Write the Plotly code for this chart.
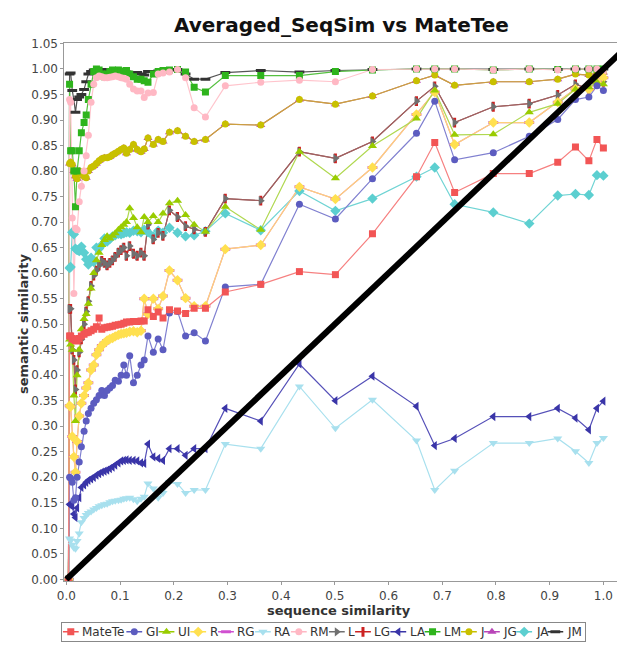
import plotly.graph_objects as go

# ---------------- data ----------------
SEQ_SIM = [0.004, 0.006, 0.008, 0.011, 0.014, 0.017, 0.020, 0.024, 0.028, 0.033,
           0.037, 0.041, 0.046, 0.051, 0.056, 0.061, 0.066, 0.071, 0.076, 0.081,
           0.086, 0.091, 0.097, 0.102, 0.107, 0.112, 0.118, 0.125, 0.132, 0.139,
           0.145, 0.152, 0.162, 0.171, 0.180, 0.192, 0.207, 0.222, 0.238, 0.259,
           0.296, 0.362, 0.434, 0.501, 0.570, 0.652, 0.686, 0.723, 0.795, 0.862,
           0.915, 0.948, 0.973, 0.988, 1.000]

MATETE = [0.0, 0.477, 0.477, 0.472, 0.470, 0.468, 0.467, 0.472, 0.477, 0.480,
          0.483, 0.484, 0.487, 0.490, 0.495, 0.512, 0.490, 0.493, 0.494, 0.495,
          0.496, 0.498, 0.499, 0.500, 0.502, 0.504, 0.504, 0.505, 0.505, 0.506,
          0.506, 0.528, 0.515, 0.524, 0.512, 0.528, 0.526, 0.521, 0.531, 0.531,
          0.563, 0.578, 0.603, 0.597, 0.677, 0.789, 0.856, 0.758, 0.795, 0.795,
          0.817, 0.847, 0.820, 0.862, 0.845]
GI = [0.0, 0.200, 0.198, 0.190, 0.155, 0.160, 0.200, 0.230, 0.260, 0.290,
      0.310, 0.325, 0.335, 0.345, 0.352, 0.360, 0.370, 0.360, 0.370, 0.375,
      0.380, 0.390, 0.388, 0.400, 0.420, 0.400, 0.438, 0.385, 0.400, 0.420,
      0.430, 0.477, 0.445, 0.471, 0.450, 0.522, 0.525, 0.477, 0.483, 0.467,
      0.573, 0.578, 0.735, 0.706, 0.785, 0.874, 0.937, 0.822, 0.836, 0.868,
      0.901, 0.940, 0.945, 0.967, 0.958]
UI = [0.0, 0.470, 0.460, 0.450, 0.360, 0.310, 0.400, 0.450, 0.490, 0.510,
      0.520, 0.540, 0.570, 0.600, 0.625, 0.640, 0.655, 0.665, 0.672, 0.668,
      0.673, 0.678, 0.685, 0.690, 0.695, 0.700, 0.727, 0.708, 0.690, 0.680,
      0.710, 0.700, 0.712, 0.700, 0.717, 0.737, 0.742, 0.714, 0.695, 0.681,
      0.730, 0.685, 0.838, 0.786, 0.849, 0.903, 0.958, 0.871, 0.872, 0.915,
      0.932, 0.960, 0.964, 0.974, 0.970]
R = [0.0, 0.340, 0.338, 0.280, 0.240, 0.210, 0.270, 0.320, 0.345, 0.360,
     0.375, 0.385, 0.410, 0.420, 0.440, 0.450, 0.458, 0.463, 0.468, 0.471,
     0.473, 0.476, 0.479, 0.481, 0.482, 0.483, 0.485, 0.486, 0.484, 0.487,
     0.550, 0.520, 0.550, 0.530, 0.555, 0.605, 0.586, 0.551, 0.535, 0.535,
     0.647, 0.655, 0.769, 0.745, 0.807, 0.911, 0.955, 0.852, 0.895, 0.895,
     0.935, 0.961, 0.960, 0.974, 0.983]
RG = [0.0, 0.340, 0.338, 0.280, 0.240, 0.210, 0.270, 0.320, 0.345, 0.360,
      0.375, 0.385, 0.410, 0.420, 0.440, 0.450, 0.458, 0.463, 0.468, 0.471,
      0.473, 0.476, 0.479, 0.481, 0.482, 0.483, 0.485, 0.486, 0.484, 0.487,
      0.550, 0.520, 0.550, 0.530, 0.555, 0.605, 0.586, 0.551, 0.535, 0.535,
      0.647, 0.655, 0.769, 0.745, 0.807, 0.911, 0.955, 0.852, 0.895, 0.895,
      0.935, 0.961, 0.960, 0.974, 0.983]
RA = [0.0, 0.080, 0.076, 0.068, 0.062, 0.060, 0.075, 0.090, 0.112, 0.120,
      0.126, 0.130, 0.133, 0.137, 0.140, 0.143, 0.145, 0.147, 0.148, 0.151,
      0.153, 0.154, 0.155, 0.156, 0.158, 0.159, 0.160, 0.157, 0.153, 0.158,
      0.162, 0.188, 0.178, 0.160, 0.169, 0.190, 0.187, 0.169, 0.175, 0.175,
      0.265, 0.256, 0.378, 0.296, 0.352, 0.272, 0.175, 0.213, 0.267, 0.267,
      0.276, 0.251, 0.228, 0.267, 0.277]
RM = [0.0, 0.940, 0.935, 0.708, 0.560, 0.688, 0.685, 0.740, 0.770, 0.800,
      0.830, 0.870, 0.935, 0.970, 0.983, 0.986, 0.985, 0.983, 0.983, 0.984,
      0.985, 0.986, 0.985, 0.983, 0.982, 0.980, 0.970, 0.961, 0.957, 0.957,
      0.944, 0.953, 0.954, 0.990, 0.992, 0.994, 0.999, 0.983, 0.924, 0.906,
      0.967, 0.974, 0.978, 0.975, 0.999, 1.000, 1.000, 1.000, 0.998, 1.000,
      0.998, 1.000, 1.000, 1.000, 0.995]
L = [0.0, 0.530, 0.530, 0.450, 0.430, 0.372, 0.410, 0.445, 0.470, 0.500,
     0.525, 0.545, 0.575, 0.595, 0.605, 0.615, 0.624, 0.620, 0.615, 0.620,
     0.625, 0.632, 0.640, 0.645, 0.650, 0.634, 0.653, 0.638, 0.634, 0.640,
     0.634, 0.695, 0.666, 0.679, 0.673, 0.723, 0.710, 0.692, 0.686, 0.681,
     0.746, 0.742, 0.838, 0.825, 0.858, 0.937, 0.966, 0.895, 0.926, 0.932,
     0.949, 0.970, 0.961, 0.974, 0.975]
LG = [0.0, 0.530, 0.530, 0.450, 0.430, 0.372, 0.410, 0.445, 0.470, 0.500,
      0.525, 0.545, 0.575, 0.595, 0.605, 0.615, 0.624, 0.620, 0.615, 0.620,
      0.625, 0.632, 0.640, 0.645, 0.650, 0.634, 0.653, 0.638, 0.634, 0.640,
      0.634, 0.695, 0.666, 0.679, 0.673, 0.723, 0.710, 0.692, 0.686, 0.681,
      0.746, 0.742, 0.838, 0.825, 0.858, 0.937, 0.966, 0.895, 0.926, 0.932,
      0.949, 0.970, 0.961, 0.974, 0.975]
LA = [0.0, 0.147, 0.145, 0.144, 0.128, 0.121, 0.140, 0.160, 0.180, 0.185,
      0.190, 0.194, 0.197, 0.200, 0.204, 0.207, 0.210, 0.212, 0.214, 0.217,
      0.220, 0.224, 0.228, 0.232, 0.233, 0.234, 0.233, 0.233, 0.232, 0.228,
      0.227, 0.265, 0.240, 0.237, 0.233, 0.256, 0.256, 0.243, 0.256, 0.256,
      0.335, 0.310, 0.422, 0.350, 0.398, 0.339, 0.262, 0.276, 0.319, 0.319,
      0.335, 0.316, 0.293, 0.335, 0.349]
LM = [0.0, 0.970, 0.840, 0.840, 0.800, 0.730, 0.800, 0.840, 0.875, 0.895,
      0.910, 0.940, 0.970, 0.995, 1.000, 0.998, 0.990, 0.985, 0.990, 0.995,
      0.998, 0.997, 0.998, 0.996, 0.995, 0.997, 0.990, 0.985, 0.980, 0.980,
      0.977, 0.974, 0.990, 0.995, 0.997, 0.998, 0.999, 0.994, 0.964, 0.955,
      0.987, 0.987, 0.987, 0.995, 0.998, 1.000, 1.000, 1.000, 0.998, 1.000,
      0.999, 1.000, 1.000, 1.000, 1.000]
J = [0.0, 0.815, 0.817, 0.813, 0.800, 0.790, 0.785, 0.800, 0.795, 0.790,
     0.787, 0.800, 0.807, 0.810, 0.815, 0.820, 0.824, 0.826, 0.826, 0.828,
     0.832, 0.835, 0.839, 0.842, 0.845, 0.835, 0.842, 0.852, 0.842, 0.838,
     0.843, 0.865, 0.852, 0.862, 0.858, 0.876, 0.879, 0.868, 0.858, 0.862,
     0.892, 0.890, 0.940, 0.931, 0.947, 0.977, 0.988, 0.968, 0.975, 0.975,
     0.980, 0.990, 0.988, 0.992, 0.993]
JG = [0.0, 0.815, 0.817, 0.813, 0.800, 0.790, 0.785, 0.800, 0.795, 0.790,
      0.787, 0.800, 0.807, 0.810, 0.815, 0.820, 0.824, 0.826, 0.826, 0.828,
      0.832, 0.835, 0.839, 0.842, 0.845, 0.835, 0.842, 0.852, 0.842, 0.838,
      0.843, 0.865, 0.852, 0.862, 0.858, 0.876, 0.879, 0.868, 0.858, 0.862,
      0.892, 0.890, 0.940, 0.931, 0.947, 0.977, 0.988, 0.968, 0.975, 0.975,
      0.980, 0.990, 0.988, 0.992, 0.993]
JA = [0.0, 0.610, 0.612, 0.680, 0.676, 0.648, 0.645, 0.643, 0.652, 0.640,
      0.627, 0.617, 0.630, 0.622, 0.650, 0.648, 0.655, 0.668, 0.662, 0.667,
      0.672, 0.674, 0.677, 0.676, 0.678, 0.680, 0.679, 0.683, 0.682, 0.680,
      0.685, 0.680, 0.672, 0.683, 0.679, 0.689, 0.679, 0.672, 0.674, 0.682,
      0.717, 0.684, 0.761, 0.722, 0.746, 0.789, 0.807, 0.735, 0.719, 0.697,
      0.752, 0.755, 0.753, 0.792, 0.791]
JM = [0.0, 0.990, 0.992, 0.958, 0.940, 0.915, 0.940, 0.945, 0.950, 0.960,
      0.975, 0.990, 0.995, 0.998, 0.998, 0.997, 0.998, 0.999, 0.997, 0.998,
      0.997, 0.996, 0.997, 0.998, 0.995, 0.994, 0.993, 0.992, 0.993, 0.990,
      0.988, 0.995, 0.995, 0.996, 0.997, 0.998, 0.999, 0.990, 0.980, 0.980,
      0.993, 0.997, 0.994, 0.997, 0.999, 1.000, 1.000, 1.000, 0.999, 1.000,
      0.999, 1.000, 1.000, 1.000, 1.000]

SERIES_NAMES = ["MateTe", "GI", "UI", "R", "RG", "RA", "RM", "L", "LG", "LA",
                "LM", "J", "JG", "JA", "JM"]
SERIES_VALUES = [MATETE, GI, UI, R, RG, RA, RM, L, LG, LA, LM, J, JG, JA, JM]

DIAG_X = [0.0, 1.1]
DIAG_Y = [0.0, 1.1]

X_TICKS = [0.0, 0.1, 0.2, 0.3, 0.4, 0.5, 0.6, 0.7, 0.8, 0.9, 1.0]
X_TICK_LABELS = ["0.0", "0.1", "0.2", "0.3", "0.4", "0.5", "0.6", "0.7", "0.8", "0.9", "1.0"]
Y_TICKS = [0.00, 0.05, 0.10, 0.15, 0.20, 0.25, 0.30, 0.35, 0.40, 0.45, 0.50,
           0.55, 0.60, 0.65, 0.70, 0.75, 0.80, 0.85, 0.90, 0.95, 1.00, 1.05]
Y_TICK_LABELS = ["0.00", "0.05", "0.10", "0.15", "0.20", "0.25", "0.30", "0.35",
                 "0.40", "0.45", "0.50", "0.55", "0.60", "0.65", "0.70", "0.75",
                 "0.80", "0.85", "0.90", "0.95", "1.00", "1.05"]

TITLE = "Averaged_SeqSim vs MateTee"
X_TITLE = "sequence similarity"
Y_TITLE = "semantic similarity"

# ---------------- styles ----------------
STYLE = {
    "MateTe": ("#f25555", "#f68080", "square", 7),
    "GI": ("#5c5cc0", "#8080d0", "circle", 7),
    "UI": ("#99cc00", "#b0d850", "triangle-up", 8),
    "R": ("#ffe050", "#ffd07a", "diamond", 8),
    "RG": ("#d050d0", "#e090c0", "line-ew", 7),
    "RA": ("#a8e0ee", "#a8e0ee", "triangle-down", 8),
    "RM": ("#ffb8c4", "#ffc4cc", "circle", 7),
    "L": ("#707070", "#a06060", "triangle-right", 8),
    "LG": ("#cc2222", "#a06060", "line-ns", 7),
    "LA": ("#3a35a8", "#5550b8", "triangle-left", 8),
    "LM": ("#2eb41c", "#55c040", "square", 7),
    "J": ("#c8c000", "#cca040", "circle", 7),
    "JG": ("#b845b8", "#c08070", "triangle-up", 8),
    "JA": ("#5ccfd0", "#70d4d4", "diamond", 8),
    "JM": ("#333333", "#555555", "line-ew", 7),
}

FONT = "DejaVu Sans"
W, H = 625, 647
OFF = 8          # the page body keeps its default 8px margin


def fx(p):
    return p - OFF


def fy(p):
    return p - OFF


# wanted positions in the picture (page pixels)
PL, PT, PB = 57, 37, 585
PR_FIG = W                        # plot runs to the figure's right edge
X0PX, XSCALE = 59.0, 544.0
Y0PX, YSCALE = 583.0, 520.0

x_range = [(fx(PL) - fx(X0PX)) / XSCALE, (PR_FIG - fx(X0PX)) / XSCALE]
y_range = [(Y0PX - PB) / YSCALE, (Y0PX - PT) / YSCALE]

fig = go.Figure()


def marker_dict(color, symbol, size):
    if symbol.startswith("line-"):
        return dict(symbol=symbol, size=size, color=color,
                    line=dict(color=color, width=3))
    return dict(symbol=symbol, size=size, color=color, line=dict(width=0))


order = list(range(len(SERIES_NAMES)))[::-1]

for i in order:
    name = SERIES_NAMES[i]
    mc, lc, sym, sz = STYLE[name]
    fig.add_trace(go.Scatter(x=SEQ_SIM, y=SERIES_VALUES[i], mode="lines",
                             line=dict(color=lc, width=1.2), showlegend=False,
                             hoverinfo="skip", xaxis="x", yaxis="y"))
for i in order:
    name = SERIES_NAMES[i]
    mc, lc, sym, sz = STYLE[name]
    fig.add_trace(go.Scatter(x=SEQ_SIM, y=SERIES_VALUES[i], mode="markers", name=name,
                             marker=marker_dict(mc, sym, sz), showlegend=False,
                             xaxis="x", yaxis="y"))

fig.add_trace(go.Scatter(x=DIAG_X, y=DIAG_Y, mode="lines",
                         line=dict(color="#000000", width=6), showlegend=False,
                         hoverinfo="skip", xaxis="x", yaxis="y"))

# ---------------- one-row legend ----------------
CHAR_W = {"M": 10.36, "a": 7.36, "t": 4.7, "e": 7.38, "T": 7.33, "G": 9.3, "I": 3.54,
          "U": 8.78, "R": 8.34, "A": 8.21, "L": 6.68, "J": 3.54}
LEG_L, LEG_R, LEG_T, LEG_B = 55, 584, 627, 646
leg_y = (LEG_T + LEG_B) / 2.0
cx = 63.5
annotations = []
for name in SERIES_NAMES:
    mc, lc, sym, sz = STYLE[name]
    fig.add_trace(go.Scatter(x=[cx - 8, cx + 8], y=[leg_y, leg_y], mode="lines",
                             line=dict(color=mc, width=1.5), showlegend=False,
                             hoverinfo="skip", xaxis="x2", yaxis="y2"))
    fig.add_trace(go.Scatter(x=[cx], y=[leg_y], mode="markers",
                             marker=marker_dict(mc, sym, sz), showlegend=False,
                             hoverinfo="skip", xaxis="x2", yaxis="y2"))
    tx = cx + 9.5
    annotations.append(dict(x=tx, y=leg_y, xref="x2", yref="y2", text=name,
                            showarrow=False, xanchor="left", yanchor="middle",
                            font=dict(family=FONT, size=12, color="#333333")))
    tw = sum(CHAR_W.get(c, 7.0) for c in name)
    cx = tx + tw + 10.3


def paper_x(p):
    return fx(p) / W


def paper_y(p):
    return 1 - fy(p) / H


annotations.append(dict(x=paper_x(338), y=paper_y(18), xref="paper", yref="paper", text=TITLE,
                        showarrow=False, xanchor="center", yanchor="middle",
                        font=dict(family=FONT, size=20, color="#111111", weight="bold")))
annotations.append(dict(x=paper_x(335), y=paper_y(615), xref="paper", yref="paper", text=X_TITLE,
                        showarrow=False, xanchor="center", yanchor="middle",
                        font=dict(family=FONT, size=13, color="#333333", weight="bold")))
annotations.append(dict(x=paper_x(15), y=paper_y(322), xref="paper", yref="paper", text=Y_TITLE,
                        showarrow=False, xanchor="center", yanchor="middle", textangle=-90,
                        font=dict(family=FONT, size=13, color="#333333", weight="bold")))

fig.update_layout(
    width=W, height=H,
    margin=dict(l=0, r=0, t=0, b=0, pad=0),
    paper_bgcolor="#ffffff", plot_bgcolor="#ffffff",
    showlegend=False,
    font=dict(family=FONT, size=12, color="#444444"),
    xaxis=dict(domain=[fx(PL) / W, PR_FIG / W], range=x_range, tickvals=X_TICKS,
               ticktext=X_TICK_LABELS, ticks="outside", ticklen=3, tickcolor="#999999",
               showline=True, linecolor="#999999", linewidth=1, mirror=True,
               showgrid=False, zeroline=False, anchor="y",
               tickfont=dict(family=FONT, size=12, color="#444444")),
    yaxis=dict(domain=[1 - fy(PB) / H, 1 - fy(PT) / H], range=y_range, tickvals=Y_TICKS,
               ticktext=Y_TICK_LABELS, ticks="outside", ticklen=3, tickcolor="#999999",
               showline=True, linecolor="#999999", linewidth=1,
               showgrid=False, zeroline=False, anchor="x",
               tickfont=dict(family=FONT, size=12, color="#444444")),
    xaxis2=dict(domain=[fx(LEG_L) / W, fx(LEG_R) / W], range=[LEG_L, LEG_R], visible=True,
                showticklabels=False, ticks="", showgrid=False, zeroline=False,
                showline=True, linecolor="#888888", mirror=True, anchor="y2", fixedrange=True),
    yaxis2=dict(domain=[1 - fy(LEG_B) / H, 1 - fy(LEG_T) / H], range=[LEG_B, LEG_T],
                showticklabels=False, ticks="", showgrid=False, zeroline=False,
                showline=True, linecolor="#888888", mirror=True, anchor="x2", fixedrange=True),
    annotations=annotations,
)

fig.write_html("out.html", config={"displayModeBar": False})
